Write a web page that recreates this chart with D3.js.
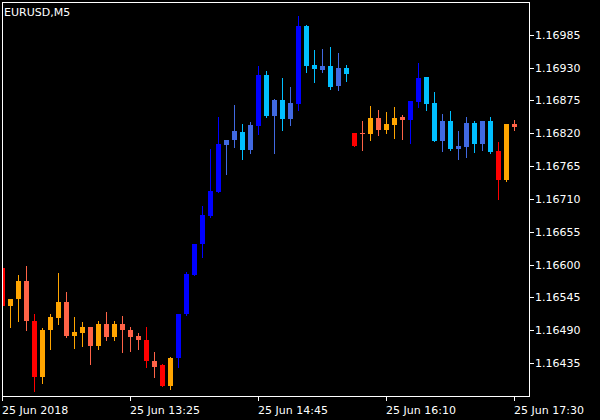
<!DOCTYPE html>
<html>
<head>
<meta charset="utf-8">
<script src="https://cdn.jsdelivr.net/npm/d3@7"></script>
<style>
  html, body { margin: 0; padding: 0; background: #000; }
  svg { display: block; }
  text { font-family: "DejaVu Sans", sans-serif; font-size: 11px; fill: #fff; }
</style>
</head>
<body>
<svg id="chart" width="600" height="420"></svg>
<script>
// ---- data ----
const symbolLabel = "EURUSD,M5";
const opens  = [1.16594,1.16531,1.16543,1.16573,1.16506,1.16412,1.16490,1.16511,1.16538,1.16481,1.16486,1.16496,1.16463,1.16501,1.16478,1.16501,1.16491,1.16481,1.16474,1.16439,1.16431,1.16397,1.16443,1.16518,1.16583,1.16635,1.16681,1.16722,1.16801,1.16809,1.16822,1.16792,1.16832,1.16917,1.16849,1.16876,1.16844,1.16869,1.16999,1.16934,1.16926,1.16933,1.16899,1.16929,1.16820,1.16821,1.16819,1.16846,1.16825,1.16834,1.16847,1.16842,1.16872,1.16914,1.16871,1.16807,1.16841,1.16794,1.16797,1.16837,1.16802,1.16841,1.16790,1.16742,1.16835];
const highs  = [1.16594,1.16543,1.16583,1.16598,1.16517,1.16494,1.16517,1.16586,1.16554,1.16512,1.16504,1.16496,1.16506,1.16521,1.16506,1.16514,1.16496,1.16486,1.16496,1.16453,1.16433,1.16446,1.16518,1.16588,1.16635,1.16698,1.16794,1.16847,1.16809,1.16867,1.16835,1.16839,1.16933,1.16924,1.16877,1.16912,1.16897,1.17017,1.17001,1.16959,1.16961,1.16964,1.16954,1.16934,1.16820,1.16840,1.16866,1.16859,1.16856,1.16864,1.16851,1.16874,1.16938,1.16914,1.16889,1.16852,1.16857,1.16824,1.16847,1.16841,1.16841,1.16847,1.16805,1.16835,1.16842];
const lows   = [1.16531,1.16496,1.16506,1.16490,1.16389,1.16402,1.16459,1.16501,1.16478,1.16461,1.16463,1.16433,1.16458,1.16473,1.16473,1.16454,1.16456,1.16459,1.16428,1.16411,1.16396,1.16392,1.16429,1.16516,1.16582,1.16613,1.16680,1.16722,1.16752,1.16797,1.16777,1.16787,1.16819,1.16847,1.16787,1.16825,1.16834,1.16859,1.16923,1.16906,1.16923,1.16894,1.16892,1.16907,1.16799,1.16792,1.16809,1.16817,1.16820,1.16812,1.16810,1.16804,1.16864,1.16859,1.16807,1.16790,1.16792,1.16777,1.16780,1.16789,1.16792,1.16787,1.16710,1.16740,1.16825];
const closes = [1.16531,1.16543,1.16573,1.16505,1.16412,1.16491,1.16512,1.16538,1.16481,1.16487,1.16496,1.16463,1.16501,1.16478,1.16501,1.16490,1.16479,1.16473,1.16438,1.16429,1.16397,1.16444,1.16518,1.16585,1.16635,1.16683,1.16723,1.16802,1.16809,1.16824,1.16792,1.16834,1.16917,1.16849,1.16876,1.16844,1.16871,1.16999,1.16933,1.16928,1.16933,1.16897,1.16929,1.16919,1.16799,1.16819,1.16846,1.16825,1.16835,1.16846,1.16842,1.16874,1.16913,1.16869,1.16807,1.16841,1.16794,1.16799,1.16837,1.16802,1.16841,1.16789,1.16742,1.16835,1.16831];
// indicator state per bar
const states = ["R1","R3","R3","R2","R1","R3","R3","R3","R2","R3","R3","R2","R3","R2","R3","R2","R2","R2","R1","R2","R1","R3","B1","B1","B1","B1","B1","B1","B2","B2","B3","B2","B1","B3","B2","B3","B2","B1","B3","B3","B2","B3","B2","B3","R1","R2","R3","R2","R3","R3","R2","B1","B1","B3","B3","B2","B3","B2","B2","B3","B2","B3","R1","R3","R2"];
const priceTicks = [1.16435,1.16490,1.16545,1.16600,1.16655,1.16710,1.16765,1.16820,1.16875,1.16930,1.16985];
const timeTickIndex = [0,16,32,48,64];
const timeTickLabels = ["25 Jun 2018","25 Jun 13:25","25 Jun 14:45","25 Jun 16:10","25 Jun 17:30"];

// ---- styles ----
const stateColor = {R1:"#FF0000", R2:"#FF6347", R3:"#FFA500", B1:"#0000FF", B2:"#4169E1", B3:"#00BFFF"};

(function () {
const bars = opens.map((o,i)=>({i, o, h:highs[i], l:lows[i], c:closes[i], s:states[i]}));

const svg = d3.select("#chart");
svg.append("rect").attr("width",600).attr("height",420).attr("fill","#000");

const pL = 2, pR = 529, pT = 2, pB = 396;
const x = d3.scaleLinear().domain([0, bars.length-1]).range([2, 514]);
const y = d3.scaleLinear().domain([1.16379, 1.17039]).range([pB + 0.5, pT + 0.5]);

svg.append("clipPath").attr("id","plotclip")
  .append("rect").attr("x", pL+1).attr("y", pT+1)
  .attr("width", pR-pL-1).attr("height", pB-pT-1);

const g = svg.append("g").attr("clip-path","url(#plotclip)").attr("shape-rendering","crispEdges");

// wicks
g.selectAll("rect.wick").data(bars).join("rect")
  .attr("class","wick")
  .attr("x", d => Math.round(x(d.i)))
  .attr("width", 1)
  .attr("y", d => Math.round(y(d.h)))
  .attr("height", d => Math.max(1, Math.round(y(d.l)) - Math.round(y(d.h)) + 1))
  .attr("fill", d => stateColor[d.s]);

// bodies
g.selectAll("rect.body").data(bars).join("rect")
  .attr("class","body")
  .attr("x", d => Math.round(x(d.i)) - 2)
  .attr("width", 5)
  .attr("y", d => Math.round(y(Math.max(d.o,d.c))))
  .attr("height", d => Math.max(1, Math.round(y(Math.min(d.o,d.c))) - Math.round(y(Math.max(d.o,d.c)))))
  .attr("fill", d => stateColor[d.s]);

// frame
svg.append("rect")
  .attr("x", pL + 0.5).attr("y", pT + 0.5)
  .attr("width", pR - pL).attr("height", pB - pT)
  .attr("fill","none").attr("stroke","#fff").attr("stroke-width",1)
  .attr("shape-rendering","crispEdges");

// price axis (right)
const pa = svg.append("g");
pa.selectAll("line").data(priceTicks).join("line")
  .attr("x1", pR + 0.5).attr("x2", pR + 5)
  .attr("y1", d => Math.round(y(d)) + 0.5).attr("y2", d => Math.round(y(d)) + 0.5)
  .attr("stroke","#fff").attr("shape-rendering","crispEdges");
pa.selectAll("text").data(priceTicks).join("text")
  .attr("x", pR + 6).attr("y", d => Math.round(y(d)) + 4)
  .text(d => d.toFixed(5));

// time axis (bottom)
const ta = svg.append("g");
ta.selectAll("line").data(timeTickIndex).join("line")
  .attr("x1", d => Math.round(x(d)) + 0.5).attr("x2", d => Math.round(x(d)) + 0.5)
  .attr("y1", pB + 0.5).attr("y2", pB + 5)
  .attr("stroke","#fff").attr("shape-rendering","crispEdges");
ta.selectAll("text").data(timeTickIndex).join("text")
  .attr("x", d => Math.round(x(d)))
  .attr("y", 414)
  .text((d,k) => timeTickLabels[k]);

// symbol label
svg.append("text").attr("x", 4).attr("y", 16).text(symbolLabel);
})();
</script>
</body>
</html>
